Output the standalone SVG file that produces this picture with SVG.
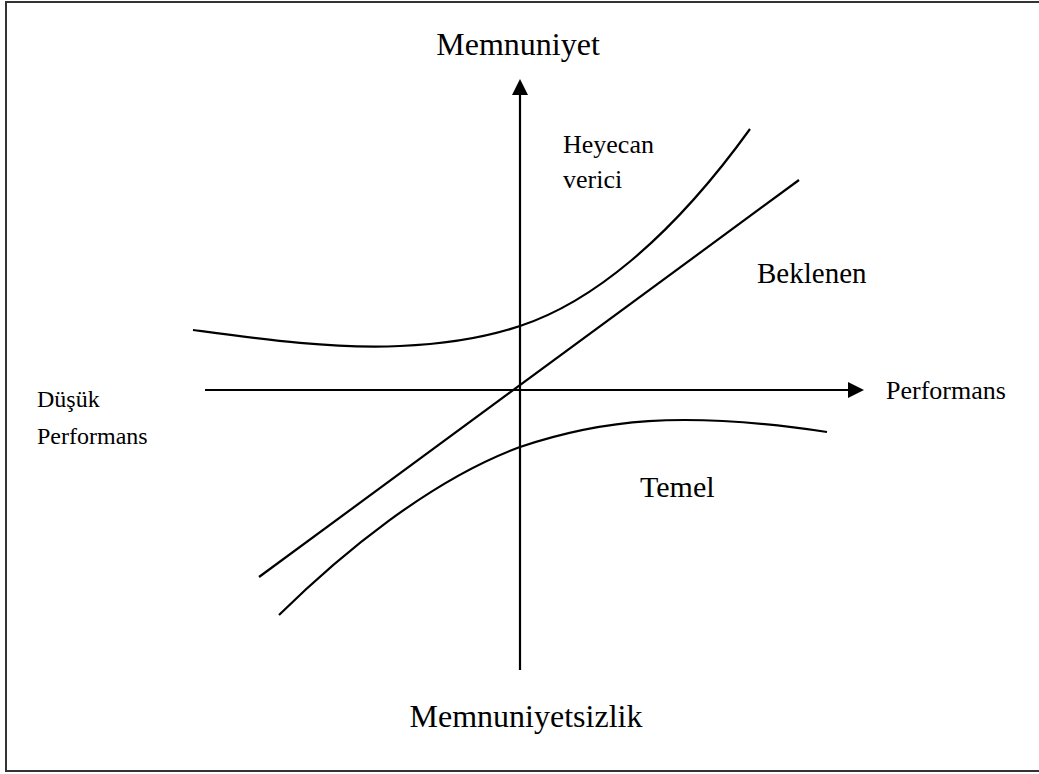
<svg xmlns="http://www.w3.org/2000/svg" width="1039" height="774" viewBox="0 0 1039 774">
<style>
.ax{stroke:#000;stroke-width:2.2;fill:none}
.cv{stroke:#000;stroke-width:2.2;fill:none}
.t{font-family:"Liberation Serif","Times New Roman",serif;fill:#000}
</style>
<defs>
<marker id="ah" viewBox="0 0 16 16" refX="0" refY="8" markerWidth="16" markerHeight="16" markerUnits="userSpaceOnUse" orient="auto">
<path d="M0,0 L16,8 L0,16 z" fill="#000"/>
</marker>
</defs>
<rect x="0" y="0" width="1039" height="774" fill="#fff"/>
<rect id="frame" x="6" y="2" width="1045" height="769" fill="none" stroke="#333" stroke-width="2"/>
<g id="connectors">
<line id="y-axis" class="ax" x1="520" y1="670" x2="520" y2="95" marker-end="url(#ah)"/>
<line id="x-axis" class="ax" x1="205" y1="390" x2="848" y2="390" marker-end="url(#ah)"/>
<path id="heyecan-curve" class="cv" d="M193,330 C260,339 330,349 400,346 C450,344 490,336 520,326 C590,303 670,240 750,129"/>
<line id="beklenen-line" class="cv" x1="259" y1="577" x2="799" y2="180"/>
<path id="temel-curve" class="cv" d="M279,615 C340,555 430,480 520,447 C600,420 680,410 827,432"/>
</g>
<g id="label-memnuniyet"><text class="t" x="518" y="55" font-size="32" text-anchor="middle">Memnuniyet</text></g>
<g id="label-memnuniyetsizlik"><text class="t" x="526" y="727" font-size="32" text-anchor="middle">Memnuniyetsizlik</text></g>
<g id="label-heyecan"><text class="t" x="563" y="153" font-size="26">Heyecan</text><text class="t" x="563" y="188" font-size="26">verici</text></g>
<g id="label-beklenen"><text class="t" x="757" y="283" font-size="29">Beklenen</text></g>
<g id="label-temel"><text class="t" x="640" y="497" font-size="30">Temel</text></g>
<g id="label-performans"><text class="t" x="886" y="399" font-size="26">Performans</text></g>
<g id="label-dusuk"><text class="t" x="37" y="407" font-size="24">Düşük</text><text class="t" x="37" y="444" font-size="24">Performans</text></g>
</svg>
